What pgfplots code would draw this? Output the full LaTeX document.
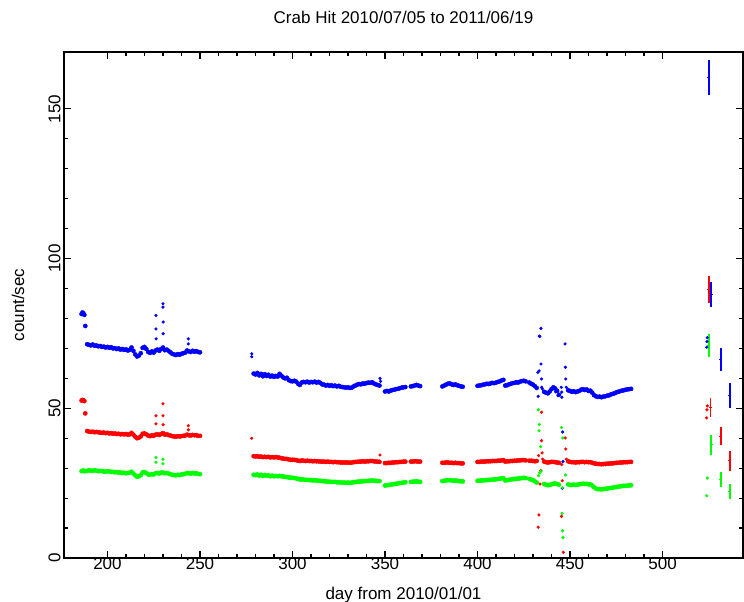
\documentclass[border=0pt]{standalone}
\usepackage{pgfplots}
\usepackage{pgfplotstable}
\pgfplotsset{compat=1.18}
\usepackage{fontspec}
\setmainfont{Liberation Sans}
\definecolor{cblue}{RGB}{0,0,255}
\definecolor{cred}{RGB}{255,0,0}
\definecolor{cgreen}{RGB}{0,255,0}

% band data: day, blue, red, green
\pgfplotstableread{
d b r g
186 81.5 52.6 29.0
186.5 82.0 52.8 29.1
187 81.7 52.7 29.2
187.5 81.2 52.4 29.0
188 77.5 48.3 29.0
189 71.4 42.4 29.1
190 71.2 42.2 29.3
191 71.0 42.1 29.2
192 71.3 42.2 29.1
193 70.9 42.0 29.3
194 71.0 42.1 29.2
195 70.7 42.0 29.0
196 70.8 41.9 29.1
197 70.5 41.8 29.0
198 70.6 41.9 28.9
199 70.3 41.7 28.8
200 70.5 41.8 29.0
201 70.2 41.6 28.9
202 70.4 41.7 28.7
203 70.0 41.5 28.8
204 70.1 41.6 28.6
205 69.8 41.4 28.7
206 70.0 41.5 28.5
207 69.6 41.3 28.6
208 69.8 41.4 28.4
209 69.5 41.3 28.5
210 69.7 41.4 28.3
211 69.3 41.2 28.4
212 69.5 41.3 28.5
213 70.3 41.8 28.8
214 69.2 41.2 28.2
215 68.0 40.5 27.6
216 67.3 40.0 27.1
217 67.6 40.2 27.3
218 68.4 40.6 27.7
219 70.2 41.5 28.6
220 70.5 41.6 28.7
221 69.8 41.3 28.4
222 68.8 40.9 27.9
223 68.5 40.7 27.8
224 69.0 41.0 28.0
225 68.6 40.8 27.9
226 69.3 41.2 28.3
227 69.6 41.3 28.4
228 69.2 41.1 28.2
229 69.8 41.4 28.5
230 70.3 41.7 28.6
231 69.4 41.2 28.3
232 69.6 41.3 28.4
233 69.2 41.1 28.2
234 68.7 40.9 28.0
235 68.2 40.7 27.8
236 68.0 40.6 27.7
237 67.8 40.5 27.6
238 68.1 40.7 27.8
239 67.9 40.6 27.7
240 68.2 40.7 27.9
241 68.4 40.8 28.0
242 68.6 40.9 28.1
243 69.3 41.2 28.4
244 69.0 41.0 28.3
245 68.8 40.9 28.2
246 69.2 41.1 28.4
247 68.9 41.0 28.2
248 69.1 41.0 28.3
249 68.8 40.8 28.1
250 68.7 40.8 28.0
279 61.6 34.0 27.8
280 61.3 33.9 27.7
281 61.8 34.0 27.9
282 61.0 33.8 27.5
283 61.5 33.9 27.8
284 60.7 33.7 27.4
285 61.4 33.8 27.7
286 60.8 33.7 27.5
287 61.2 33.8 27.6
288 60.6 33.6 27.3
289 60.9 33.7 27.5
290 60.5 33.6 27.3
291 60.8 33.7 27.4
292 60.6 33.6 27.3
293 61.5 33.5 27.4
294 60.9 33.3 27.3
295 60.3 33.2 27.2
296 60.0 33.1 27.1
297 60.2 33.1 27.0
298 59.4 32.9 26.9
299 59.1 32.8 26.8
300 59.0 32.8 26.8
301 59.2 32.8 26.7
302 58.9 32.7 26.6
303 58.2 32.5 26.4
304 57.8 32.4 26.2
305 58.6 32.6 26.3
306 58.8 32.5 26.2
307 58.7 32.4 26.1
308 58.9 32.5 26.1
309 58.6 32.4 26.0
310 58.8 32.4 26.0
311 58.7 32.3 25.9
312 58.9 32.4 26.0
313 58.6 32.3 25.9
314 58.8 32.3 25.8
315 58.5 32.2 25.8
316 58.0 32.2 25.7
317 57.9 32.2 25.6
318 57.6 32.1 25.6
319 57.8 32.2 25.5
320 57.5 32.1 25.5
321 57.7 32.1 25.4
322 57.4 32.0 25.4
323 57.6 32.1 25.4
324 57.3 32.0 25.3
325 57.5 32.0 25.3
326 57.2 31.9 25.2
327 57.1 31.9 25.2
328 57.0 31.9 25.2
329 56.9 31.9 25.1
330 57.0 31.9 25.2
331 56.8 31.8 25.1
332 56.9 31.9 25.2
333 57.3 32.0 25.3
334 57.6 32.1 25.4
335 57.9 32.1 25.5
336 58.1 32.2 25.5
337 58.0 32.2 25.6
338 58.3 32.3 25.6
339 58.2 32.2 25.7
340 58.4 32.3 25.7
341 58.6 32.3 25.8
342 58.5 32.4 25.8
343 58.7 32.4 25.9
344 58.3 32.3 25.8
345 58.0 32.2 25.8
346 57.8 32.2 25.7
347 57.6 32.1 25.7
350 55.6 31.7 24.2
351 55.8 31.7 24.3
352 55.6 31.8 24.4
353 55.9 31.8 24.5
354 56.1 31.9 24.6
355 56.2 31.9 24.7
356 56.4 32.0 24.8
357 56.5 32.0 24.9
358 56.7 32.1 25.0
359 56.9 32.1 25.1
360 57.0 32.2 25.2
361 57.1 32.2 25.3
364 57.3 32.2 25.4
365 57.4 32.2 25.5
366 57.6 32.3 25.5
367 57.8 32.3 25.6
368 57.6 32.2 25.5
369 57.4 32.2 25.4
381 57.3 31.8 25.7
382 57.6 31.8 25.8
383 57.9 31.9 25.9
384 58.2 31.9 26.0
385 58.3 31.8 26.0
386 58.0 31.8 25.9
387 57.8 31.7 25.8
388 58.0 31.8 25.9
389 57.7 31.7 25.8
390 57.5 31.7 25.7
391 57.3 31.6 25.6
392 57.2 31.6 25.6
400 57.5 32.1 25.8
401 57.6 32.1 25.8
402 57.7 32.2 25.9
403 57.9 32.2 25.9
404 58.0 32.2 26.0
405 58.2 32.3 26.0
406 58.1 32.3 26.1
407 58.3 32.3 26.1
408 58.5 32.4 26.2
409 58.4 32.4 26.2
410 58.6 32.4 26.3
411 58.8 32.5 26.4
412 59.0 32.5 26.5
413 59.3 32.6 26.6
414 59.5 32.7 26.7
415 57.6 32.2 25.9
416 57.7 32.3 26.0
417 58.0 32.3 26.1
418 58.2 32.4 26.2
419 58.4 32.4 26.3
420 58.5 32.5 26.4
421 58.7 32.5 26.5
422 58.6 32.6 26.5
423 58.9 32.6 26.6
424 59.1 32.7 26.7
425 59.2 32.7 26.8
426 59.0 32.6 26.7
428 58.6 32.5 26.4
429 58.2 32.5 26.2
430 57.9 32.4 26.0
431 57.4 32.3 25.6
432 56.8 32.4 25.2
436 55.5 32.2 24.7
437 55.2 32.0 24.5
438 55.0 31.9 24.3
439 55.6 32.0 24.4
440 56.4 32.1 24.6
441 57.0 32.1 24.8
442 56.6 32.0 24.9
443 55.8 31.9 24.7
444 54.5 31.8 24.5
449 56.0 32.3 24.6
450 55.8 32.1 24.4
451 55.5 32.0 24.4
452 55.7 32.0 24.5
453 55.4 31.9 24.4
454 55.6 32.0 24.5
455 55.8 32.0 24.6
456 56.2 32.1 24.7
457 56.4 32.1 24.8
458 56.1 32.0 24.7
459 56.3 32.1 24.8
460 55.8 32.0 24.6
461 55.9 32.0 24.6
462 55.2 31.8 24.2
463 54.4 31.6 23.6
464 54.0 31.5 23.2
465 53.8 31.4 23.0
466 53.9 31.4 23.0
467 53.7 31.3 22.9
468 53.9 31.4 23.0
469 54.0 31.4 23.1
470 54.2 31.5 23.2
471 54.3 31.5 23.3
472 54.6 31.6 23.4
473 54.8 31.6 23.5
474 55.0 31.7 23.6
475 55.3 31.8 23.7
476 55.5 31.8 23.8
477 55.7 31.9 23.9
478 55.9 31.9 24.0
479 56.0 32.0 24.1
480 56.2 32.0 24.1
481 56.3 32.0 24.2
482 56.4 32.1 24.2
483 56.5 32.1 24.3
}\band

\pgfplotstableread{
d v
226.2 81.0
226.2 76.5
226.3 73.2
230.0 84.9
230.0 83.8
230.1 78.8
230.1 74.9
243.7 73.2
243.7 71.5
278.0 68.2
278.0 67.2
347.3 60.0
347.6 59.0
432.6 62.0
432.8 54.0
433.3 62.5
433.4 74.1
433.7 74.0
434.3 76.7
434.3 64.8
434.6 59.8
434.7 57.0
435.0 56.5
442.2 55.5
443.5 54.2
445.3 57.0
445.5 55.4
445.6 53.7
446.0 42.1
446.2 32.2
445.8 23.3
447.3 71.5
447.5 63.7
447.7 59.8
448.0 57.0
524.2 73.6
524.0 72.3
523.9 70.4
}\bdots

\pgfplotstableread{
d v
226.2 47.5
226.2 44.8
230.0 51.5
230.0 47.5
230.1 44.5
243.7 44.2
243.7 42.8
278.0 40.0
347.3 34.4
432.8 10.3
433.2 14.4
433.0 34.2
434.6 48.7
434.2 29.2
433.8 24.7
434.6 39.2
434.9 35.1
435.2 33.0
445.5 31.2
445.8 25.8
445.4 13.9
446.4 1.9
447.4 40.1
447.7 36.4
448.0 33.0
524.2 50.8
524.0 49.5
523.8 46.8
}\rdots

\pgfplotstableread{
d v
226.2 33.6
226.2 32.0
230.0 33.0
230.0 31.5
432.9 49.5
433.4 44.6
433.2 42.5
434.1 37.2
434.3 29.0
433.0 27.5
433.6 28.4
445.4 43.6
446.1 40.1
447.5 27.7
445.7 14.9
446.0 9.1
446.2 6.8
446.0 23.5
524.2 26.7
523.9 20.8
}\gdots

\pgfplotstableread{
d v e
525.1 160.4 5.8
526.2 88.0 4.3
531.6 66.3 3.8
536.4 54.2 4.2
}\berr
\pgfplotstableread{
d v e
525.1 89.6 4.5
526.0 50.3 3.3
531.6 40.7 3.1
536.4 32.5 3.3
}\rerr
\pgfplotstableread{
d v e
525.1 71.0 3.8
526.2 37.8 3.3
531.6 26.1 2.5
536.4 22.2 2.5
}\gerr

\begin{document}
\begin{tikzpicture}
\useasboundingbox (0,0) rectangle (744pt,602pt);
\begin{axis}[
  at={(64pt,44pt)}, anchor=south west,
  scale only axis, width=679pt, height=506pt,
  xmin=176.5, xmax=543.5, ymin=0, ymax=169,
  xtick={200,250,...,500}, minor x tick num=4,
  ytick={0,50,100,150}, minor y tick num=4,
  tick align=inside,
  major tick length=7pt, minor tick length=4pt,
  axis line style={line width=1.2pt},
  every tick/.style={line width=1.2pt, black},
  /pgf/number format/assume math mode=true,
  ticklabel style={font=\fontsize{17}{20}\selectfont},
  xticklabel style={yshift=4pt},
  yticklabel style={rotate=90, anchor=south, yshift=0pt},
  label style={font=\fontsize{17}{20}\selectfont},
  title style={font=\fontsize{17}{20}\selectfont, at={(axis description cs:0.5,1)}, anchor=center, yshift=29pt},
  xlabel style={at={(axis description cs:0.5,0)}, anchor=center, yshift=-37pt},
  ylabel style={at={(axis description cs:0,0.5)}, anchor=center, yshift=46pt},
  title={Crab Hit 2010/07/05 to 2011/06/19},
  xlabel={day from 2010/01/01},
  ylabel={count/sec},
  clip=true,
]
\addplot[cblue, only marks, mark=*, mark size=2.1pt] table[x=d, y=b] {\band};
\addplot[cred, only marks, mark=*, mark size=2.1pt] table[x=d, y=r] {\band};
\addplot[cgreen, only marks, mark=*, mark size=2.1pt] table[x=d, y=g] {\band};
\addplot[cblue, only marks, mark=*, mark size=1.4pt] table[x=d, y=v] {\bdots};
\addplot[cred, only marks, mark=*, mark size=1.4pt] table[x=d, y=v] {\rdots};
\addplot[cgreen, only marks, mark=*, mark size=1.4pt] table[x=d, y=v] {\gdots};
\addplot[cblue, only marks, mark=-, mark size=1.5pt, mark options={line width=1.2pt},
  error bars/.cd, y dir=both, y explicit, error mark=none,
  error bar style={line width=1.4pt, cblue}] table[x=d, y=v, y error=e] {\berr};
\addplot[cred, only marks, mark=-, mark size=1.5pt, mark options={line width=1.2pt},
  error bars/.cd, y dir=both, y explicit, error mark=none,
  error bar style={line width=1.4pt, cred}] table[x=d, y=v, y error=e] {\rerr};
\addplot[cgreen, only marks, mark=-, mark size=1.5pt, mark options={line width=1.2pt},
  error bars/.cd, y dir=both, y explicit, error mark=none,
  error bar style={line width=1.4pt, cgreen}] table[x=d, y=v, y error=e] {\gerr};
\end{axis}
\end{tikzpicture}
\end{document}
